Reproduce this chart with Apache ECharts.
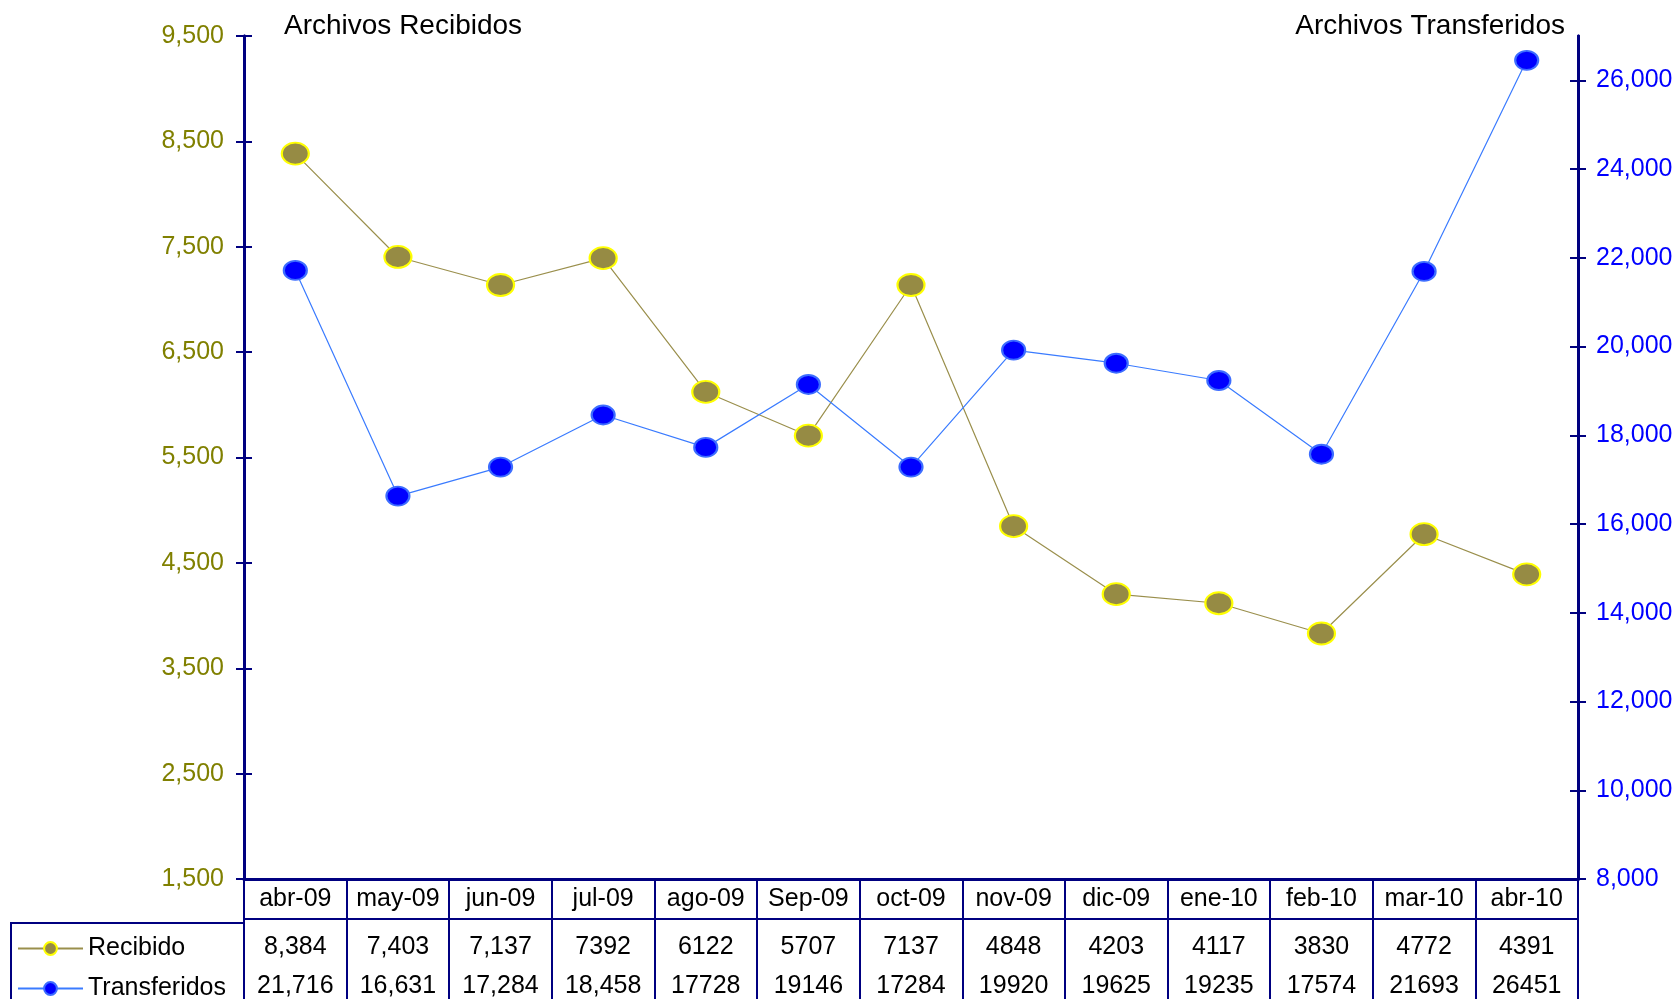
<!DOCTYPE html>
<html>
<head>
<meta charset="utf-8">
<script src="https://cdn.jsdelivr.net/npm/echarts@6/dist/echarts.min.js"></script>
<style>
html,body{margin:0;padding:0;background:#fff;}
#chart{width:1680px;height:999px;}
</style>
</head>
<body>
<div id="chart"></div>
<script>
// ---- data ----
const categories = ['abr-09','may-09','jun-09','jul-09','ago-09','Sep-09','oct-09','nov-09','dic-09','ene-10','feb-10','mar-10','abr-10'];
const recibido = [8384, 7403, 7137, 7392, 6122, 5707, 7137, 4848, 4203, 4117, 3830, 4772, 4391];
const transferidos = [21716, 16631, 17284, 18458, 17728, 19146, 17284, 19920, 19625, 19235, 17574, 21693, 26451];
const leftTicks = [1500, 2500, 3500, 4500, 5500, 6500, 7500, 8500, 9500];
const rightTicks = [8000, 10000, 12000, 14000, 16000, 18000, 20000, 22000, 24000, 26000];
// the source table writes thousands separators only in its first columns
const recibidoCommaCols = 3;
const transferidosCommaCols = 4;

const FONT = 'Liberation Sans, Arial, sans-serif';
const NAVY = '#000080';
const fmt = v => v.toLocaleString('en-US');
const recibidoText = recibido.map((v, i) => i < recibidoCommaCols ? fmt(v) : String(v));
const transferidosText = transferidos.map((v, i) => i < transferidosCommaCols ? fmt(v) : String(v));

const chart = echarts.init(document.getElementById('chart'), null, {renderer: 'canvas'});

const baseY = {
  splitLine: {show: false},
  axisLine: {show: true, lineStyle: {color: NAVY, width: 3}},
};
const legendBase = {
  orient: 'horizontal',
  left: 17,
  padding: 0,
  itemWidth: 65,
  itemHeight: 16,
  textStyle: {fontFamily: FONT, fontSize: 25, color: '#000'}
};

chart.setOption({
  animation: false,
  backgroundColor: '#ffffff',
  textStyle: {fontFamily: FONT},
  title: [
    {text: 'Archivos Recibidos', left: 279, top: 7,
     textStyle: {fontFamily: FONT, fontSize: 28, fontWeight: 'normal', color: '#000'}},
    {text: 'Archivos Transferidos', right: 110, top: 7,
     textStyle: {fontFamily: FONT, fontSize: 28, fontWeight: 'normal', color: '#000'}}
  ],
  legend: [
    Object.assign({}, legendBase, {top: 936, data: ['Recibido']}),
    Object.assign({}, legendBase, {top: 976, data: ['Transferidos']})
  ],
  grid: {left: 244, right: 102, top: 36, bottom: 116, containLabel: false},
  xAxis: [
    {
      type: 'category', data: categories, position: 'bottom', boundaryGap: true,
      axisLine: {show: true, lineStyle: {color: NAVY, width: 3}},
      axisTick: {show: true, interval: 0, length: 40, lineStyle: {color: NAVY, width: 2}},
      axisLabel: {interval: 0, margin: 8, fontFamily: FONT, fontSize: 25, color: '#000'}
    },
    {
      type: 'category', data: categories, position: 'bottom', offset: 40, boundaryGap: true,
      axisLine: {show: true, lineStyle: {color: NAVY, width: 2}},
      axisTick: {show: true, interval: 0, length: 90, lineStyle: {color: NAVY, width: 2}},
      axisLabel: {interval: 0, margin: 16, fontFamily: FONT, fontSize: 25, color: '#000',
                  formatter: (v, i) => recibidoText[i]}
    },
    {
      type: 'category', data: categories, position: 'bottom', offset: 40, boundaryGap: true,
      axisLine: {show: false}, axisTick: {show: false},
      axisLabel: {interval: 0, margin: 55, fontFamily: FONT, fontSize: 25, color: '#000',
                  formatter: (v, i) => transferidosText[i]}
    }
  ],
  yAxis: [
    Object.assign({}, baseY, {
      type: 'value', position: 'left', min: leftTicks[0], max: leftTicks[leftTicks.length - 1],
      axisTick: {show: true, inside: false, length: 8, customValues: leftTicks, lineStyle: {color: NAVY, width: 2}},
      axisLabel: {show: true, margin: 20, customValues: leftTicks, formatter: fmt,
                  fontFamily: FONT, fontSize: 25, color: '#808000'}
    }),
    Object.assign({}, baseY, {
      type: 'value', position: 'left', min: leftTicks[0], max: leftTicks[leftTicks.length - 1],
      axisTick: {show: true, inside: true, length: 8, customValues: leftTicks, lineStyle: {color: NAVY, width: 2}},
      axisLabel: {show: false}
    }),
    Object.assign({}, baseY, {
      type: 'value', position: 'right', min: 8000, max: 27000,
      axisTick: {show: true, inside: false, length: 8, customValues: rightTicks, lineStyle: {color: NAVY, width: 2}},
      axisLabel: {show: true, margin: 18, customValues: rightTicks, formatter: fmt,
                  fontFamily: FONT, fontSize: 25, color: '#0000FF'}
    }),
    Object.assign({}, baseY, {
      type: 'value', position: 'right', min: 8000, max: 27000,
      axisTick: {show: true, inside: true, length: 8, customValues: rightTicks, lineStyle: {color: NAVY, width: 2}},
      axisLabel: {show: false}
    })
  ],
  graphic: [
    {type: 'line', shape: {x1: 10, y1: 923, x2: 245, y2: 923}, style: {stroke: NAVY, lineWidth: 2}, silent: true},
    {type: 'line', shape: {x1: 11, y1: 922, x2: 11, y2: 1000}, style: {stroke: NAVY, lineWidth: 2}, silent: true}
  ],
  series: [
    {
      name: 'Recibido', type: 'line', xAxisIndex: 0, yAxisIndex: 0, data: recibido,
      symbol: 'circle', symbolSize: [27, 22],
      lineStyle: {color: '#9A8F4C', width: 1.2},
      itemStyle: {color: '#968B44', borderColor: '#FFFF00', borderWidth: 2},
      z: 3
    },
    {
      name: 'Transferidos', type: 'line', xAxisIndex: 0, yAxisIndex: 2, data: transferidos,
      symbol: 'circle', symbolSize: [23, 19],
      lineStyle: {color: '#3A7BFF', width: 1.2},
      itemStyle: {color: '#0000FF', borderColor: '#3D6DFF', borderWidth: 2},
      z: 4
    }
  ]
});
</script>
</body>
</html>
